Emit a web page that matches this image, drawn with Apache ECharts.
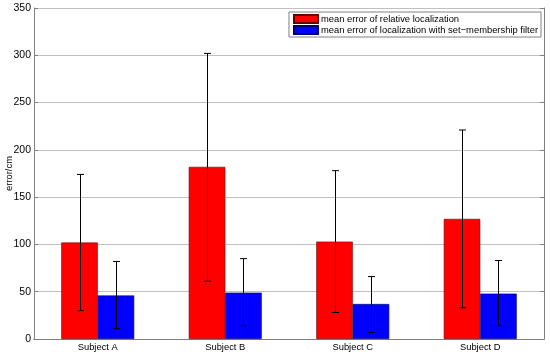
<!DOCTYPE html>
<html><head><meta charset="utf-8">
<script src="https://cdn.jsdelivr.net/npm/echarts@6/dist/echarts.min.js"></script>
<style>html,body{margin:0;padding:0;background:#fff}#c{width:550px;height:357px}</style>
</head><body><div id="c"></div>
<script>
const categories = ['Subject A', 'Subject B', 'Subject C', 'Subject D'];
const seriesNames = ['mean error of relative localization', 'mean error of localization with set\u2212membership filter'];
const relMean = [102, 182, 103, 127];
const relLow = [30, 61, 28, 33];
const relHigh = [174, 302, 178, 221];
const smfMean = [46, 49, 37, 48];
const smfLow = [11, 14, 7, 14];
const smfHigh = [82, 85, 66, 83];
const yTicks = [0, 50, 100, 150, 200, 250, 300, 350];

const BAR_FRAC = 0.286;
const chart = echarts.init(document.getElementById('c'));
function errSeries(low, high, side) {
  return {
    type: 'custom',
    xAxisIndex: 0, yAxisIndex: 0,
    data: low.map((l, i) => [i, l, high[i]]),
    z: 10,
    renderItem: function (params, api) {
      const i = api.value(0);
      const pLow = api.coord([i, api.value(1)]);
      const pHigh = api.coord([i, api.value(2)]);
      const band = api.size([1, 0])[0];
      const bw = band * BAR_FRAC;
      const x = Math.round(pLow[0] + side * bw / 2) + 0.5;
      const cap = 3.5;
      const st = { stroke: '#000', lineWidth: 1, fill: null };
      return { type: 'group', children: [
        { type: 'line', shape: { x1: x, y1: pLow[1], x2: x, y2: pHigh[1] }, style: st },
        { type: 'line', shape: { x1: x - cap, y1: pLow[1], x2: x + cap, y2: pLow[1] }, style: st },
        { type: 'line', shape: { x1: x - cap, y1: pHigh[1], x2: x + cap, y2: pHigh[1] }, style: st }
      ]};
    }
  };
}
const axisLineStyle = { color: '#808080', width: 1 };
chart.setOption({
  animation: false,
  textStyle: { fontFamily: 'Liberation Sans, Arial, sans-serif' },
  grid: { left: 34, right: 6, top: 8, bottom: 18, containLabel: false, outerBoundsMode: 'none' },
  legend: {
    orient: 'vertical', right: 9, top: 12,
    data: seriesNames,
    itemWidth: 24, itemHeight: 8, itemGap: 1,
    padding: [2, 3, 2, 4],
    backgroundColor: '#fff', borderColor: '#808080', borderWidth: 1,
    textStyle: { fontSize: 9.4, color: '#000', padding: [0, 0, 0, -2] },
    icon: 'rect'
  },
  xAxis: [{
    type: 'category', data: categories, position: 'bottom',
    axisLine: { lineStyle: axisLineStyle },
    axisTick: { inside: true, alignWithLabel: true, length: 4, lineStyle: axisLineStyle },
    axisLabel: { color: '#000', fontSize: 9.4, margin: 4 }
  }, {
    type: 'category', data: categories, position: 'top',
    axisLine: { lineStyle: axisLineStyle },
    axisTick: { inside: true, alignWithLabel: true, length: 4, lineStyle: axisLineStyle },
    axisLabel: { show: false }
  }],
  yAxis: [{
    type: 'value', min: yTicks[0], max: yTicks[yTicks.length - 1], interval: 50,
    name: 'error/cm', nameLocation: 'middle', nameGap: 20, nameMoveOverlap: false,
    nameTextStyle: { color: '#000', fontSize: 9.4 },
    axisLine: { show: true, lineStyle: axisLineStyle },
    axisTick: { show: true, inside: true, length: 4, lineStyle: axisLineStyle },
    axisLabel: { color: '#000', fontSize: 10.5, margin: 3 },
    splitLine: { lineStyle: { color: '#c0c0c0', width: 1 } }
  }, {
    type: 'value', min: yTicks[0], max: yTicks[yTicks.length - 1], interval: 50, position: 'right',
    axisLine: { show: true, lineStyle: axisLineStyle },
    axisTick: { show: true, inside: true, length: 4, lineStyle: axisLineStyle },
    axisLabel: { show: false }, splitLine: { show: false }
  }],
  series: [
    { name: seriesNames[0], type: 'bar', data: relMean, barWidth: (BAR_FRAC * 100) + '%', barGap: '0%',
      itemStyle: { color: '#ff0000', borderColor: '#600', borderWidth: 0.6 } },
    { name: seriesNames[1], type: 'bar', data: smfMean, barWidth: (BAR_FRAC * 100) + '%', barGap: '0%',
      itemStyle: { color: '#0000ff', borderColor: '#006', borderWidth: 0.6 } },
    errSeries(relLow, relHigh, -1),
    errSeries(smfLow, smfHigh, 1)
  ]
});
</script></body></html>
